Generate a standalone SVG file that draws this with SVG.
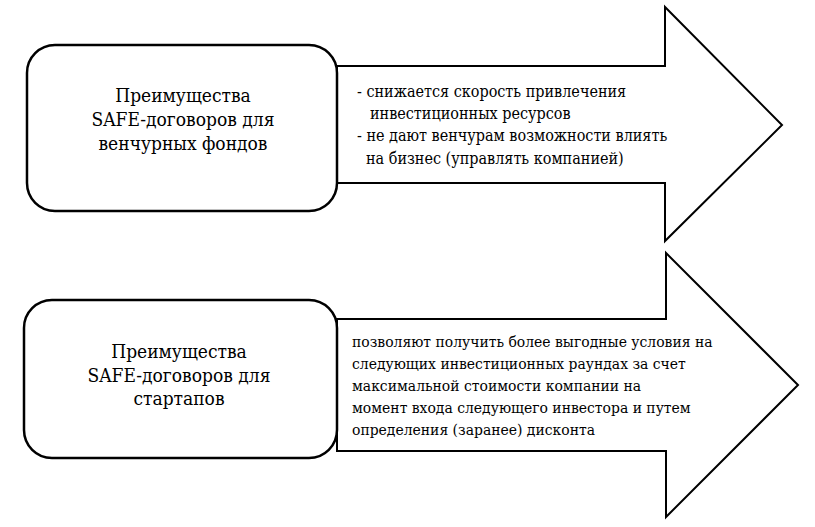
<svg xmlns="http://www.w3.org/2000/svg" width="815" height="527" viewBox="0 0 815 527">
<style>
.arrow{fill:#fff;stroke:#000;stroke-width:2;stroke-linejoin:miter}
.box{fill:#fff;stroke:#000;stroke-width:2.5}
text{font-family:'DejaVu Serif Condensed','DejaVu Serif',serif;fill:#000}
.h{font-size:19px;text-anchor:middle}
.s{font-size:16px}
.b{font-size:15.5px}
</style>
<rect width="815" height="527" fill="#fff"/>
<g id="connectors">
<polygon id="arrow1" class="arrow" points="337,66 665,66 665,7 782,125 665,241 665,183 337,183"/>
<polygon id="arrow2" class="arrow" points="337,319 666,319 666,253 798,385 666,517 666,451 337,451"/>
</g>
<g id="node1">
<rect class="box" x="27" y="45" width="310" height="166" rx="28" ry="28"/>
<text class="h" x="183" y="102">Преимущества</text>
<text class="h" x="183" y="126">SAFE-договоров для</text>
<text class="h" x="183" y="150">венчурных фондов</text>
</g>
<g id="node2">
<rect class="box" x="24" y="300" width="313" height="158" rx="28" ry="28"/>
<text class="h" x="179" y="358">Преимущества</text>
<text class="h" x="179" y="382">SAFE-договоров для</text>
<text class="h" x="179" y="405">стартапов</text>
</g>
<g id="text1">
<text class="s" x="357" y="97">- снижается скорость привлечения</text>
<text class="s" x="370" y="119">инвестиционных ресурсов</text>
<text class="s" x="357" y="141">- не дают венчурам возможности влиять</text>
<text class="s" x="366" y="164">на бизнес (управлять компанией)</text>
</g>
<g id="text2">
<text class="b" x="352" y="347">позволяют получить более выгодные условия на</text>
<text class="b" x="352" y="369">следующих инвестиционных раундах за счет</text>
<text class="b" x="352" y="391">максимальной стоимости компании на</text>
<text class="b" x="352" y="413">момент входа следующего инвестора и путем</text>
<text class="b" x="352" y="435">определения (заранее) дисконта</text>
</g>
</svg>
